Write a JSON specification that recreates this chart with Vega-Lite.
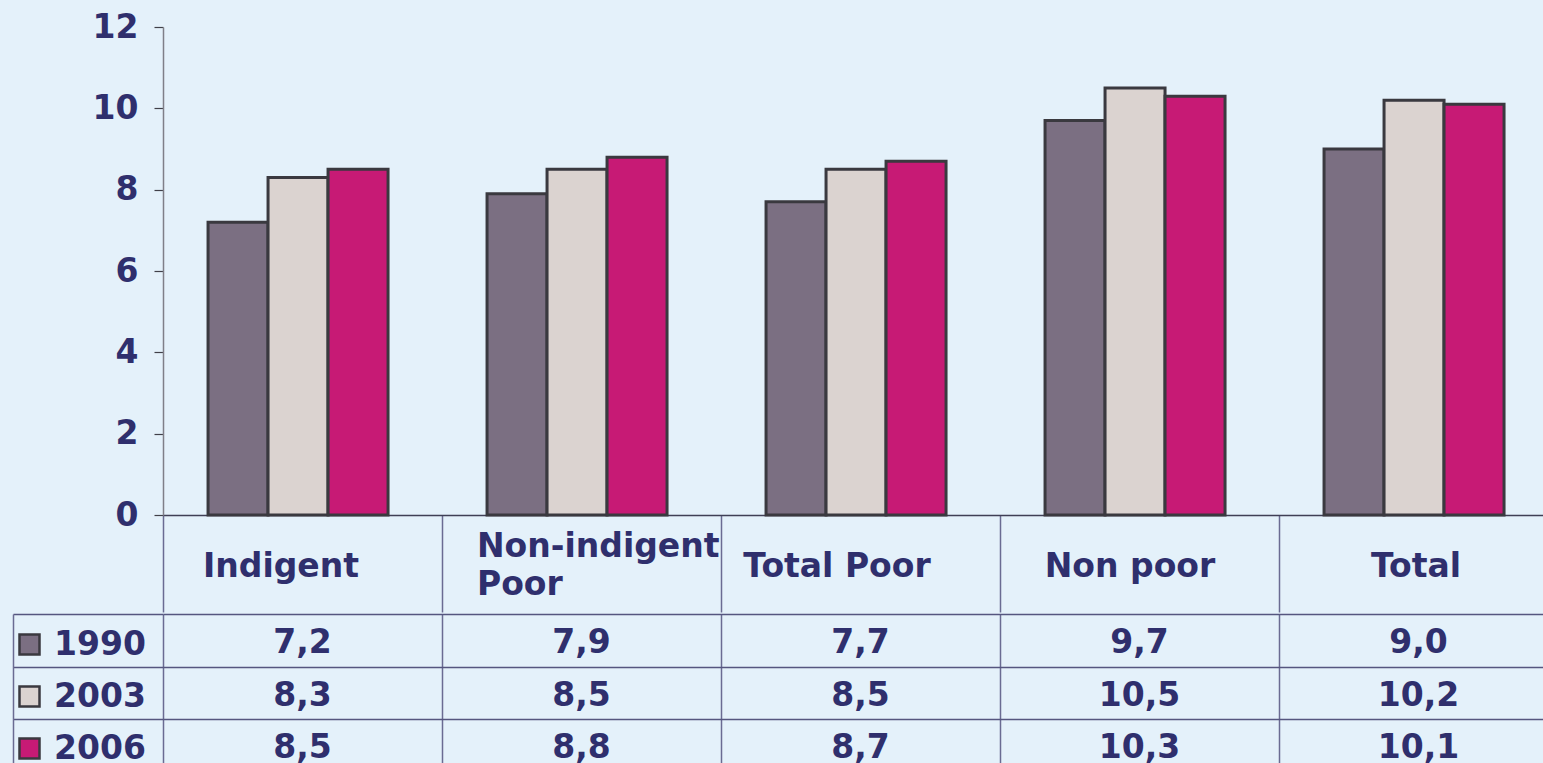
{
  "$schema": "https://vega.github.io/schema/vega-lite/v6.json",
  "background": "#E4F1FA",
  "padding": {"left": 12, "top": 11, "right": 0, "bottom": 0},
  "spacing": 0,
  "config": {
    "view": {"stroke": null},
    "font": "DejaVu Sans",
    "locale": {"number": {"decimal": ",", "thousands": ".", "grouping": [3], "currency": ["", ""]}}
  },
  "data": {"values": [
    {"category": "Indigent", "year": "1990", "value": 7.2},
    {"category": "Indigent", "year": "2003", "value": 8.3},
    {"category": "Indigent", "year": "2006", "value": 8.5},
    {"category": "Non-indigent Poor", "year": "1990", "value": 7.9},
    {"category": "Non-indigent Poor", "year": "2003", "value": 8.5},
    {"category": "Non-indigent Poor", "year": "2006", "value": 8.8},
    {"category": "Total Poor", "year": "1990", "value": 7.7},
    {"category": "Total Poor", "year": "2003", "value": 8.5},
    {"category": "Total Poor", "year": "2006", "value": 8.7},
    {"category": "Non poor", "year": "1990", "value": 9.7},
    {"category": "Non poor", "year": "2003", "value": 10.5},
    {"category": "Non poor", "year": "2006", "value": 10.3},
    {"category": "Total", "year": "1990", "value": 9.0},
    {"category": "Total", "year": "2003", "value": 10.2},
    {"category": "Total", "year": "2006", "value": 10.1}
  ]},
  "vconcat": [
    {
      "width": 1395,
      "height": 488,
      "mark": {"type": "bar", "stroke": "#3A393F", "strokeWidth": 3},
      "encoding": {
        "x": {
          "field": "category", "type": "nominal",
          "sort": ["Indigent", "Non-indigent Poor", "Total Poor", "Non poor", "Total"],
          "scale": {"paddingInner": 0, "paddingOuter": 0},
          "axis": {
            "title": null,
            "domain": true, "domainColor": "#3F3F55", "domainWidth": 1.5,
            "ticks": true, "tickBand": "extent", "tickSize": 97, "tickColor": "#6A6B92", "tickWidth": 1.5,
            "grid": false,
            "labelAngle": 0,
            "labelFont": "DejaVu Sans", "labelFontWeight": "bold", "labelFontSize": 33, "labelColor": "#2F2F6D",
            "labelBaseline": "middle", "labelLimit": 0, "labelLineHeight": 38,
            "labelPadding": {"condition": {"test": "datum.value == 'Non-indigent Poor'", "value": -66}, "value": -46},
            "labelExpr": "datum.value == 'Non-indigent Poor' ? ['\u00a0Non-indigent', 'Poor'] : datum.value",
            "labelAlign": {"condition": {"test": "datum.value == 'Non-indigent Poor'", "value": "left"}, "value": "center"},
            "labelOffset": {"condition": [
              {"test": "datum.value == 'Indigent'", "value": -22},
              {"test": "datum.value == 'Non-indigent Poor'", "value": -105},
              {"test": "datum.value == 'Total Poor'", "value": -24},
              {"test": "datum.value == 'Non poor'", "value": -10}
            ], "value": -3}
          }
        },
        "xOffset": {
          "field": "year", "type": "nominal",
          "scale": {"paddingInner": 0, "paddingOuter": 0.825, "align": 0.455}
        },
        "y": {
          "field": "value", "type": "quantitative",
          "scale": {"domain": [0, 12]},
          "axis": {
            "title": null, "values": [0, 2, 4, 6, 8, 10, 12], "grid": false,
            "domain": true, "domainColor": "#7F7F88", "domainWidth": 1.5,
            "tickSize": 9, "tickColor": "#404048", "tickWidth": 1.2,
            "labelFont": "DejaVu Sans", "labelFontWeight": "bold", "labelFontSize": 33, "labelColor": "#2F2F6D",
            "labelPadding": 16
          }
        },
        "color": {
          "field": "year", "type": "nominal",
          "scale": {"domain": ["1990", "2003", "2006"], "range": ["#7B6F82", "#DBD3D0", "#C71A75"]},
          "legend": {
            "title": null, "orient": "none", "legendX": -150, "legendY": 601,
            "symbolType": "square", "symbolSize": 400, "symbolStrokeColor": "#3A393F", "symbolStrokeWidth": 2.5,
            "labelFont": "DejaVu Sans", "labelFontWeight": "bold", "labelFontSize": 33, "labelColor": "#2F2F6D",
            "labelOffset": 8, "rowPadding": 18, "padding": 0
          }
        }
      }
    },
    {
      "width": 1395,
      "height": 157.5,
      "mark": {"type": "text", "font": "DejaVu Sans", "fontWeight": "bold", "fontSize": 33, "color": "#2F2F6D", "baseline": "middle", "dy": 3},
      "encoding": {
        "x": {
          "field": "category", "type": "nominal",
          "sort": ["Indigent", "Non-indigent Poor", "Total Poor", "Non poor", "Total"],
          "scale": {"paddingInner": 0, "paddingOuter": 0},
          "axis": {"title": null, "labels": false, "ticks": false, "domain": false, "grid": true, "tickBand": "extent", "gridColor": "#6A6B92", "gridWidth": 1.5, "gridOpacity": 1}
        },
        "y": {
          "field": "year", "type": "nominal",
          "sort": ["1990", "2003", "2006"],
          "scale": {"paddingInner": 0, "paddingOuter": 0},
          "axis": {"title": null, "labels": false, "ticks": true, "tickSize": -150, "offset": 150, "tickColor": "#55567F", "tickWidth": 1.5, "domain": true, "domainColor": "#6A6B92", "domainWidth": 1.5, "grid": true, "tickBand": "extent", "gridColor": "#55567F", "gridWidth": 1.5, "gridOpacity": 1}
        },
        "text": {"field": "value", "type": "quantitative", "format": ".1f"}
      }
    }
  ]
}
